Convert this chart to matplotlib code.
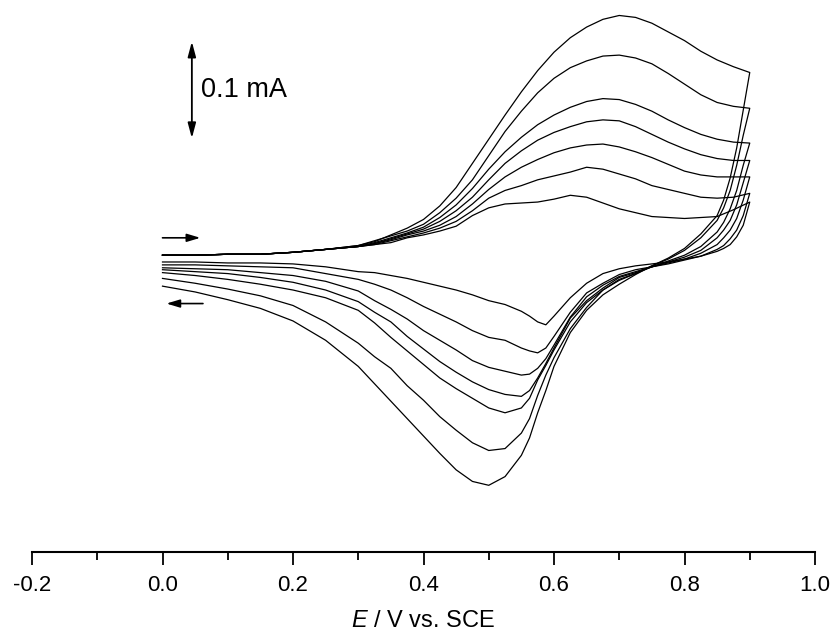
# -*- coding: utf-8 -*-

"""
Cyclic voltammograms recorded at increasing scan rates.

The current axis is replaced by a 0.1 mA scale bar, as in the source figure.
Currents are in uA, potentials in V vs. SCE.
"""

import matplotlib
matplotlib.use('Agg')
import matplotlib.pyplot as plt
from matplotlib.ticker import MultipleLocator, FormatStrFormatter

# potentials of the anodic (forward) sweep, 0.0 -> 0.9 V
E_FWD = [0.0, 0.05, 0.1, 0.15, 0.2, 0.25, 0.3, 0.325, 0.35, 0.375, 0.4,
         0.425, 0.45, 0.475, 0.5, 0.525, 0.55, 0.575, 0.6, 0.625, 0.65,
         0.675, 0.7, 0.725, 0.75, 0.775, 0.8, 0.825, 0.85, 0.875, 0.9]
# potentials of the cathodic (reverse) sweep, 0.9 -> 0.0 V
E_REV = [0.9, 0.89, 0.88, 0.87, 0.86, 0.85, 0.825, 0.8, 0.775, 0.75, 0.725,
         0.7, 0.675, 0.65, 0.625, 0.6, 0.5875, 0.575, 0.5625, 0.55, 0.525,
         0.5, 0.475, 0.45, 0.425, 0.4, 0.375, 0.35, 0.325, 0.3, 0.25, 0.2,
         0.15, 0.1, 0.05, 0.0]

# forward sweep currents (uA), largest scan rate first
fwd_1 = [1, 1, 2, 2, 4, 7, 11, 15, 22, 29, 38, 52, 71, 96, 121, 146, 170,
         192, 211, 226, 237, 245, 249, 247, 241, 232, 223, 212, 203, 196, 190]
fwd_2 = [1, 1, 2, 2, 4, 7, 11, 16, 21, 26, 33, 45, 60, 79, 104, 129, 150,
         169, 184, 195, 202, 207, 208, 205, 199, 189, 178, 167, 159, 155, 153]
fwd_3 = [1, 1, 2, 2, 4, 7, 10, 14, 19, 24, 30, 40, 53, 70, 90, 108, 123,
         136, 146, 154, 160, 163, 162, 157, 150, 141, 133, 126, 121, 118, 117]
fwd_4 = [1, 1, 2, 2, 4, 7, 10, 13, 18, 23, 28, 36, 47, 61, 79, 96, 109,
         120, 128, 134, 139, 141, 140, 134, 126, 118, 111, 105, 101, 99, 99]
fwd_5 = [1, 1, 2, 2, 4, 7, 10, 13, 17, 22, 26, 32, 41, 54, 69, 82, 92,
         100, 107, 112, 115, 116, 113, 108, 102, 95, 88, 84, 82, 82, 82]
fwd_6 = [1, 1, 2, 2, 4, 7, 10, 12, 16, 20, 24, 29, 36, 47, 60, 68, 73,
         79, 83, 87, 92, 90, 85, 80, 73, 69, 65, 61, 60, 61, 65]
fwd_7 = [1, 1, 2, 2, 4, 7, 10, 12, 14, 19, 22, 26, 31, 42, 50, 54, 55,
         56, 59, 63, 61, 55, 49, 45, 41, 40, 39, 40, 41, 48, 56]

# reverse sweep currents (uA)
rev_1 = [190, 151, 112, 81, 58, 42, 23, 8, -2, -10, -19, -29, -40, -56,
         -79, -114, -139, -162, -188, -206, -228, -237, -233, -221, -204,
         -186, -168, -150, -132, -114, -87, -67, -54, -45, -37, -31]
rev_2 = [153, 125, 94, 68, 50, 37, 19, 6, -3, -10, -18, -25, -35, -53,
         -75, -105, -123, -144, -168, -183, -199, -201, -193, -180, -166,
         -149, -134, -116, -104, -90, -68, -51, -41, -34, -28, -23]
rev_3 = [117, 94, 68, 49, 35, 25, 10, 1, -5, -11, -18, -24, -35, -48,
         -68, -97, -113, -128, -147, -157, -162, -157, -147, -137, -126,
         -112, -98, -84, -69, -56, -43, -35, -29, -24, -20, -17]
rev_4 = [99, 76, 53, 37, 27, 19, 6, -1, -6, -11, -17, -22, -33, -46,
         -64, -95, -111, -126, -139, -145, -143, -138, -130, -120, -109,
         -96, -83, -68, -58, -47, -35, -27, -22, -18, -16, -14]
rev_5 = [82, 58, 39, 27, 19, 12, 3, -3, -7, -11, -16, -21, -30, -42,
         -63, -92, -106, -116, -122, -123, -119, -115, -108, -97, -87,
         -77, -65, -55, -46, -36, -26, -20, -17, -14, -13, -12]
rev_6 = [65, 42, 27, 18, 11, 7, 0, -4, -8, -11, -14, -19, -28, -38,
         -58, -83, -95, -100, -98, -95, -87, -84, -77, -68, -60,
         -52, -43, -35, -29, -24, -18, -12, -11, -10, -9, -9]
rev_7 = [56, 32, 20, 12, 8, 5, 0, -3, -6, -8, -10, -13, -18, -28,
         -43, -62, -71, -68, -62, -57, -50, -46, -40, -35, -31,
         -27, -23, -20, -17, -16, -11, -8, -7, -7, -6, -6]

FORWARD = [fwd_1, fwd_2, fwd_3, fwd_4, fwd_5, fwd_6, fwd_7]
REVERSE = [rev_1, rev_2, rev_3, rev_4, rev_5, rev_6, rev_7]

SCALE_BAR = 100          # uA, i.e. 0.1 mA
SCALE_LABEL = '0.1 mA'
X_LABEL = '$E$ / V vs. SCE'

plt.rcParams['font.family'] = ['Liberation Sans', 'DejaVu Sans']
plt.rcParams['mathtext.fontset'] = 'custom'
plt.rcParams['mathtext.rm'] = 'Liberation Sans'
plt.rcParams['mathtext.it'] = 'Liberation Sans:italic'


def draw_cvs(ax) -> None:
    """ Draw every cycle as one sweep: forward then reverse. """
    for fwd, rev in zip(FORWARD, REVERSE):
        ax.plot(E_FWD + E_REV, fwd + rev, color='black', linewidth=0.9,
                solid_joinstyle='round')


def draw_arrows(ax) -> None:
    """ Scale bar and sweep direction arrows. """
    ax.annotate('', xy=(0.045, 222), xytext=(0.045, 222 - SCALE_BAR),
                arrowprops=dict(arrowstyle='<|-|>,head_length=0.45,'
                                'head_width=0.12',
                                color='black', lw=1.3, mutation_scale=20,
                                shrinkA=0, shrinkB=0))
    ax.text(0.059, 172, SCALE_LABEL, fontsize=19.5, ha='left', va='center')
    ax.annotate('', xy=(0.058, 19), xytext=(0.0, 19),
                arrowprops=dict(arrowstyle='-|>,head_length=0.4,'
                                'head_width=0.12',
                                color='black', lw=1.2, mutation_scale=20,
                                shrinkA=0, shrinkB=0))
    ax.annotate('', xy=(0.006, -49), xytext=(0.062, -49),
                arrowprops=dict(arrowstyle='-|>,head_length=0.4,'
                                'head_width=0.12',
                                color='black', lw=1.2, mutation_scale=20,
                                shrinkA=0, shrinkB=0))


fig = plt.figure(figsize=(8.31, 6.39), dpi=100)
ax = fig.add_axes([32 / 831, 87 / 639, 783 / 831, 552 / 639])
draw_cvs(ax)
draw_arrows(ax)

ax.set_xlim(-0.2, 1.0)
ax.set_ylim(-306, 265)
for side in ('left', 'right', 'top'):
    ax.spines[side].set_visible(False)
ax.spines['bottom'].set_linewidth(1.5)
ax.set_yticks([])
ax.xaxis.set_major_locator(MultipleLocator(0.2))
ax.xaxis.set_minor_locator(MultipleLocator(0.1))
ax.xaxis.set_major_formatter(FormatStrFormatter('%.1f'))
ax.tick_params(axis='x', which='major', direction='out', length=9.5,
               width=1.3, labelsize=16, pad=7)
ax.tick_params(axis='x', which='minor', direction='out', length=6,
               width=1.3)
ax.set_xlabel(X_LABEL, fontsize=17, labelpad=10)

fig.savefig('out.png', dpi=100)
